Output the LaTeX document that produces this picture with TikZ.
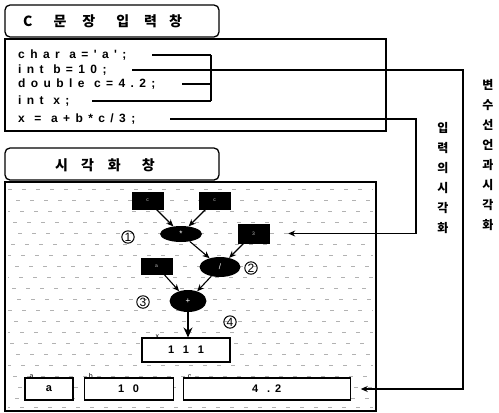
\documentclass[tikz,border=0pt]{standalone}
\usepackage{fontspec}
\setmainfont{Liberation Sans}
\newfontfamily\krfont{Noto Sans CJK KR}
\newfontfamily\codefont[LetterSpace=45,WordSpace=1.1]{Liberation Sans}
\usetikzlibrary{arrows.meta, positioning, shapes.geometric}

\begin{document}
\begin{tikzpicture}[
          x=1pt, y=-1pt,
          panel/.style={draw, line width=1.3pt},
          titlebox/.style={draw, line width=1.3pt, rounded corners=5pt},
          titletext/.style={anchor=west, inner sep=0pt,
                            font=\krfont\bfseries\fontsize{14}{14}\selectfont},
          codeline/.style={anchor=west, inner sep=0pt,
                           font=\codefont\bfseries\fontsize{12}{12}\selectfont},
          opbox/.style={draw, fill=black, minimum width=31pt, minimum height=17pt,
                        inner sep=0pt, text=white!75!black, font=\tiny},
          opnode/.style={ellipse, fill=black, inner sep=0pt, text=white,
                         font=\footnotesize},
          valbox/.style={draw, fill=white, line width=1.1pt, minimum height=22pt,
                         inner sep=0pt, font=\codefont\bfseries\fontsize{11}{11}\selectfont},
          varname/.style={inner sep=0pt, font=\fontsize{7}{7}\selectfont},
          numlabel/.style={circle, draw, line width=1pt, inner sep=0.6pt,
                           font=\fontsize{12}{12}\selectfont},
          vtext/.style={anchor=north, align=center, inner sep=0pt,
                        font=\krfont\bfseries\fontsize{12}{20}\selectfont},
          wire/.style={line width=1.1pt},
          arr/.style={-{Stealth[length=7pt, width=6pt]}, line width=1.1pt},
          bigarr/.style={-{Stealth[length=10pt, width=9pt]}, line width=1.3pt},
          texture/.style={gray!60, line width=0.6pt, dash pattern=on 4pt off 10pt}
        ]
          \useasboundingbox (0,0) rectangle (499,413);

          % C statement input window
          \draw[titlebox] (5,5) rectangle (219,37);
          \node[titletext] (intitle) at (23,21)
            {C\hspace{21pt}문\hspace{16pt}장\hspace{21pt}입\hspace{15pt}력\hspace{12pt}창};
          \draw[panel] (5,39) rectangle (386,131);
          \node[codeline] (lchar) at (18,55) {char a='a';};
          \node[codeline] (lint)  at (18,70) {int b=10;};
          \node[codeline] (ldbl)  at (18,84) {double c=4.2;};
          \node[codeline] (lx)    at (18,101) {int x;};
          \node[codeline] (lexpr) at (18,119) {x = a+b*c/3;};

          % visualization window
          \foreach \y/\ph in {189/0,200/6,211/2,222/9,233/4,244/11,255/1,266/7,
                              277/3,288/10,299/5,310/0,321/8,332/2,343/12,354/6,
                              365/1,376/9,387/4,398/7,407/2}
            \draw[texture, dash phase=\ph pt] (8,\y) -- (373,\y);
          \draw[titlebox] (5,148) rectangle (219,180);
          \node[titletext] (vistitle) at (55,165)
            {시\hspace{13pt}각\hspace{14pt}화\hspace{21pt}창};
          \draw[panel] (5,182) rectangle (376,411);

          % expression tree
          \node[opbox] (opc1) at (147.5,200.5) {c};
          \node[opbox] (opc2) at (214.5,200.5) {c};
          \node[opnode, minimum width=42pt, minimum height=16pt] (mul) at (181,234) {*};
          \node[opbox, minimum height=19pt] (opk) at (253.5,233.5) {3};
          \node[opnode, minimum width=41pt, minimum height=20pt] (div) at (220,267) {/};
          \node[opbox, minimum height=16pt] (opa) at (156.5,266) {a};
          \node[opnode, minimum width=37pt, minimum height=22pt] (add) at (188,301) {+};
          \node[numlabel] (n1) at (128,237) {1};
          \node[numlabel] (n2) at (251,268) {2};
          \node[numlabel] (n3) at (143,302) {3};
          \node[numlabel] (n4) at (230,322) {4};
          \draw[arr] (opc1) -- (mul);
          \draw[arr] (opc2) -- (mul);
          \draw[arr] (mul) -- (div);
          \draw[arr] (opk) -- (div);
          \draw[arr] (opa) -- (add);
          \draw[arr] (div) -- (add);

          % variable boxes
          \node[valbox, minimum width=88pt, minimum height=24pt] (res) at (186,350) {1 1 1};
          \node[varname, above right=-1pt and 14pt of res.north west] (nx) {x};
          \draw[bigarr] (add) -- (add |- res.north);
          \node[valbox, minimum width=48pt] (vara) at (49,389) {a};
          \node[valbox, minimum width=89pt, right=10pt of vara] (varb) {1 0};
          \node[valbox, minimum width=167pt, right=9pt of varb] (varc) {4 .2};
          \node[varname, above right=-1pt and 5pt of vara.north west] (na) {a};
          \node[varname, above right=-1pt and 5pt of varb.north west] (nb) {b};
          \node[varname, above right=-1pt and 5pt of varc.north west] (nc) {c};

          % links from the code to the window
          \coordinate (wchar) at (152,0);
          \coordinate (wint)  at (132,0);
          \coordinate (wdbl)  at (182,0);
          \coordinate (wx)    at (92,0);
          \coordinate (wexpr) at (170,0);
          \coordinate (brk) at (211,0);
          \coordinate (exprbus) at (416,0);
          \coordinate (declbus) at (463,0);
          \draw[wire] (lchar -| wchar) -- (lchar -| brk);
          \draw[wire] (ldbl -| wdbl) -- (ldbl -| brk);
          \draw[wire] (lx -| wx) -- (lx -| brk);
          \draw[wire] (lchar -| brk) -- (lx -| brk);
          \draw[arr] (lint -| wint) -| (declbus |- varc) -- ([xshift=10pt]varc.east);
          \draw[arr] (lexpr -| wexpr) -| (exprbus |- opk) -- ([xshift=19pt]opk.east);

          \node[vtext] (inviz) at (443,122) {입\\력\\의\\시\\각\\화};
          \node[vtext] (declviz) at (488,79) {변\\수\\선\\언\\과\\시\\각\\화};
        \end{tikzpicture}
\end{document}
